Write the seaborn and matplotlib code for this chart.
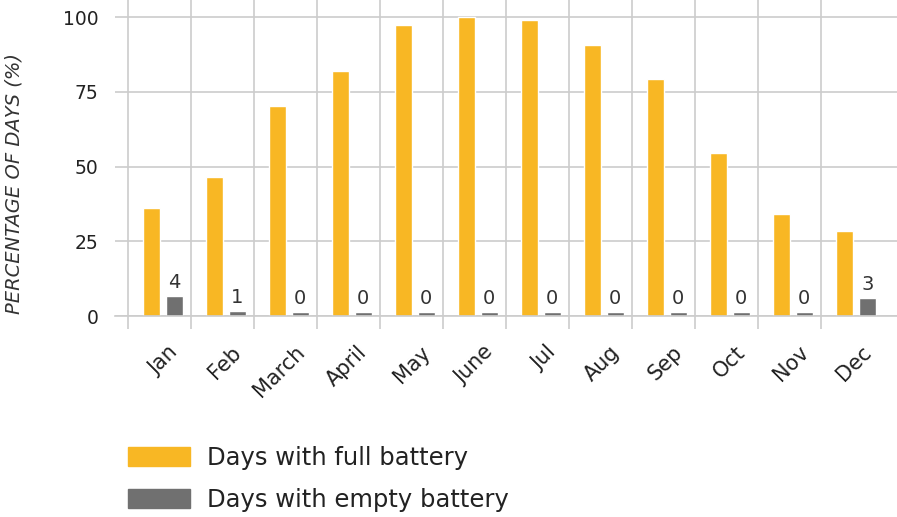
import numpy as np
import pandas as pd
import matplotlib
matplotlib.use("Agg")
import matplotlib.pyplot as plt
import matplotlib.transforms as mtransforms
import seaborn as sns

# ── Data ───────────────────────────────────────────────────────
months = ["Jan", "Feb", "March", "April", "May", "June",
          "Jul", "Aug", "Sep", "Oct", "Nov", "Dec"]
full_battery = [36, 46.5, 70.2, 82, 97.3, 100, 99, 90.6, 79.2, 54.5, 34, 28.4]
empty_battery = [6.7, 1.7, 1.2, 1.2, 1.2, 1.2, 1.2, 1.2, 1.2, 1.2, 1.2, 6]
empty_labels = [4, 1, 0, 0, 0, 0, 0, 0, 0, 0, 0, 3]
series = ["Days with full battery", "Days with empty battery"]

YELLOW = "#F8B724"
GREY = "#707070"
GRID = "#CCCCCC"
TEXT = "#222222"

df = pd.DataFrame({
    "month": months * 2,
    "value": full_battery + empty_battery,
    "series": [series[0]] * 12 + [series[1]] * 12,
})

# ── Style ──────────────────────────────────────────────────────
sns.set_theme(style="white")
plt.rcParams.update({
    "font.family": ["DejaVu Sans"],
    "text.color": TEXT,
    "axes.labelcolor": TEXT,
    "xtick.color": TEXT,
    "ytick.color": TEXT,
})

fig = plt.figure(figsize=(8.97, 5.17), dpi=100)
ax = fig.add_axes([115 / 897, 201 / 517, 782 / 897, 316 / 517])

sns.barplot(data=df, x="month", y="value", hue="series",
            palette=[YELLOW, GREY], width=0.714, gap=0.245,
            saturation=1, ax=ax, legend=False)

# value labels on the grey bars
ax.bar_label(ax.containers[1], labels=[str(v) for v in empty_labels],
             padding=3, fontsize=14, color="#333333")

# ── Axes cosmetics ─────────────────────────────────────────────
ax.set_ylim(0, 105.7)
ax.set_xlim(-0.762, 11.65)
ax.set_yticks([0, 25, 50, 75, 100])
ax.yaxis.grid(True, color=GRID, linewidth=1.2)
ax.set_xticks(np.arange(12) - 0.556, minor=True)
ax.xaxis.grid(True, which="minor", color=GRID, linewidth=1.2)
ax.xaxis.grid(False, which="major")
ax.tick_params(axis="x", which="minor", length=9, width=1.2, color=GRID,
               direction="out", bottom=True)
ax.tick_params(axis="x", which="major", length=0, pad=13, labelsize=15)
ax.tick_params(axis="y", length=0, pad=12, labelsize=13.5)
shift = mtransforms.ScaledTranslation(0.05, -0.08, fig.dpi_scale_trans)
for lbl in ax.get_xticklabels():
    lbl.set_rotation(45)
    lbl.set_ha("right")
    lbl.set_rotation_mode("anchor")
    lbl.set_transform(lbl.get_transform() + shift)

for side in ["top", "right", "left"]:
    ax.spines[side].set_visible(False)
ax.spines["bottom"].set_color(GRID)
ax.spines["bottom"].set_linewidth(1.2)
ax.set_axisbelow(True)

ax.set_xlabel("")
ax.set_ylabel("PERCENTAGE OF DAYS (%)", fontsize=14, fontstyle="italic",
              color="#333333")
ax.yaxis.set_label_coords(-0.117, 0.42)

# ── Legend ─────────────────────────────────────────────────────
handles = [plt.Rectangle((0, 0), 1, 1, color=c) for c in [YELLOW, GREY]]
fig.legend(handles, series, loc="upper left",
           bbox_to_anchor=(128 / 897, 1 - 446 / 517), frameon=False,
           borderpad=0, borderaxespad=0,
           fontsize=17.5, handlelength=2.55, handleheight=0.8,
           handletextpad=0.7, labelspacing=0.75)

fig.savefig("out.png", dpi=100)
